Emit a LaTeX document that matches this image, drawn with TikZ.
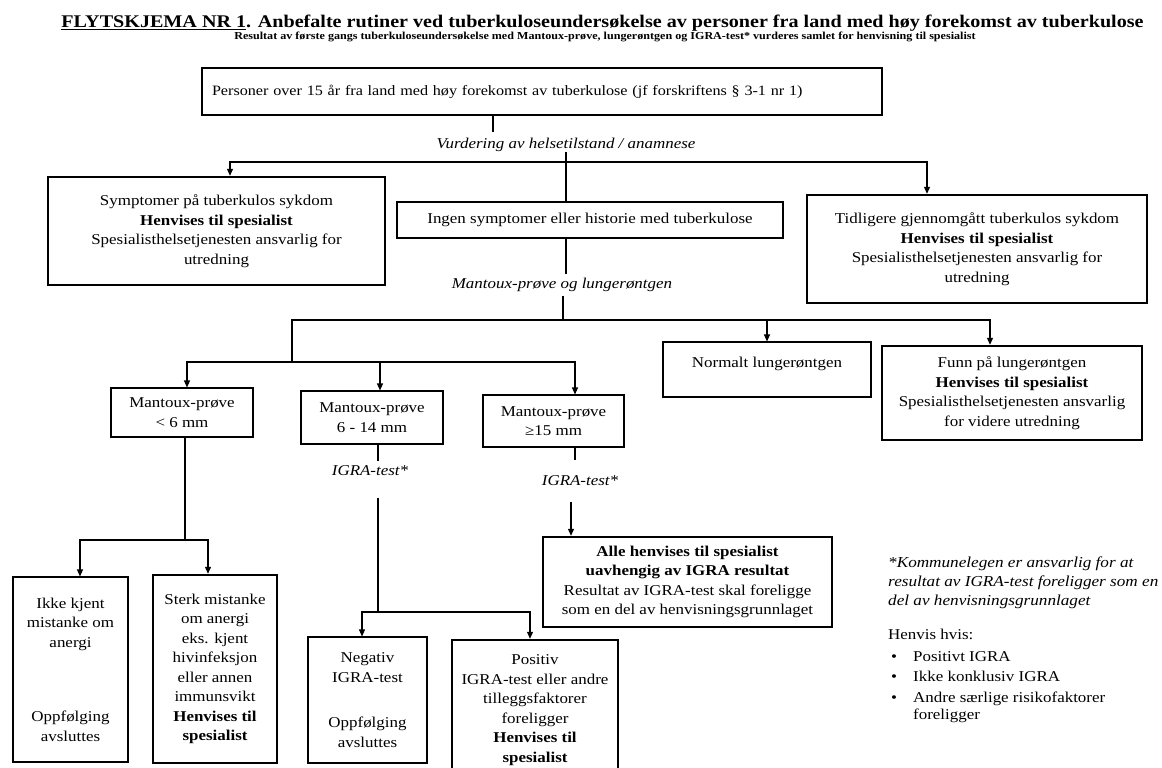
\documentclass[tikz,border=0pt]{standalone}
\usepackage{fontspec}
\setmainfont{Liberation Serif}[FakeStretch=1.13]
\usetikzlibrary{arrows.meta}
\tikzset{
  bx/.style={draw, line width=1.1pt, inner sep=0pt, align=center, font=\fontsize{15}{19.5}\selectfont},
  tbx/.style={bx, line width=2.4pt},
  lab/.style={inner sep=0pt, text height=10.5pt, text depth=3pt, font=\fontsize{15}{18}\selectfont\itshape},
  ln/.style={line width=1.1pt},
  arr/.style={ln, -{Triangle[length=7pt,width=6pt]}},
}
\begin{document}
\begin{tikzpicture}[x=1pt,y=-1pt]
\useasboundingbox (0,0) rectangle (1162,768);
\clip (0,0) rectangle (1162,768);

% titles
\node[anchor=base, inner sep=0pt, font=\fontsize{17.8}{21}\selectfont\bfseries] (title) at (602.5,28)
  {\underline{FLYTSKJEMA NR 1}. Anbefalte rutiner ved tuberkuloseundersøkelse av personer fra land med høy forekomst av tuberkulose};
\node[anchor=base, inner sep=0pt, font=\fontsize{10.7}{12}\selectfont\bfseries] (sub) at (605,40)
  {Resultat av første gangs tuberkuloseundersøkelse med Mantoux-prøve, lungerøntgen og IGRA-test* vurderes samlet for henvisning til spesialist};

% boxes
\node[bx, align=left, text width=660pt, inner xsep=10pt, minimum height=47pt, font=\fontsize{14.3}{18}\selectfont] (top) at (542,91.5)
  {Personer over 15 år fra land med høy forekomst av tuberkulose (jf forskriftens § 3-1 nr 1)};
\node[lab] (vurd) at (566,145) {Vurdering av helsetilstand / anamnese};
\node[tbx, minimum width=337pt, minimum height=108pt] (sym) at (216.5,231)
  {Symptomer på tuberkulos sykdom\\\textbf{Henvises til spesialist}\\Spesialisthelsetjenesten ansvarlig for\\utredning};
\node[bx, minimum width=386pt, minimum height=36pt] (ingen) at (590,220)
  {Ingen symptomer eller historie med tuberkulose};
\node[tbx, minimum width=340pt, minimum height=108pt] (tidl) at (977,249)
  {Tidligere gjennomgått tuberkulos sykdom\\\textbf{Henvises til spesialist}\\Spesialisthelsetjenesten ansvarlig for\\utredning};
\node[lab] (lung) at (562,285) {Mantoux-prøve og lungerøntgen};
\node[bx, minimum width=208pt, minimum height=55pt] (normal) at (767,369.5)
  {Normalt lungerøntgen\\[-6pt]\mbox{}};
\node[tbx, minimum width=260pt, minimum height=94pt] (funn) at (1012,393)
  {Funn på lungerøntgen\\\textbf{Henvises til spesialist}\\Spesialisthelsetjenesten ansvarlig\\for videre utredning};
\node[bx, minimum width=142pt, minimum height=49pt] (m1) at (182,412.5) {Mantoux-prøve\\< 6 mm};
\node[bx, minimum width=142pt, minimum height=53pt] (m2) at (372,417.5) {Mantoux-prøve\\6 - 14 mm};
\node[bx, minimum width=141pt, minimum height=52pt] (m3) at (553.5,421) {Mantoux-prøve\\≥15 mm};
\node[lab] (igra1) at (370,472) {IGRA-test*};
\node[lab] (igra2) at (580,482) {IGRA-test*};
\node[bx, minimum width=115pt, minimum height=185pt] (ikke) at (70.5,669.5)
  {Ikke kjent\\mistanke om\\anergi\\[55pt]Oppfølging\\avsluttes};
\node[tbx, minimum width=124pt, minimum height=188pt] (sterk) at (215,669)
  {Sterk mistanke\\om anergi\\eks. kjent\\hivinfeksjon\\eller annen\\immunsvikt\\\textbf{Henvises til}\\\textbf{spesialist}};
\node[tbx, minimum width=289pt, minimum height=90pt] (alle) at (687.5,582)
  {\textbf{Alle henvises til spesialist}\\\textbf{uavhengig av IGRA resultat}\\Resultat av IGRA-test skal foreligge\\som en del av henvisningsgrunnlaget};
\node[bx, minimum width=119pt, minimum height=126pt] (neg) at (367.5,700)
  {Negativ\\IGRA-test\\[26pt]Oppfølging\\avsluttes};
\node[tbx, minimum width=166pt, minimum height=140pt] (pos) at (535,710)
  {Positiv\\IGRA-test eller andre\\tilleggsfaktorer\\foreligger\\\textbf{Henvises til}\\\textbf{spesialist}};

% footnote
\node[anchor=north west, inner sep=0pt, align=left, font=\fontsize{15.2}{19}\selectfont\itshape] (fn) at (888,557)
  {*Kommunelegen er ansvarlig for at\\resultat av IGRA-test foreligger som en\\del av henvisningsgrunnlaget};
\node[anchor=north west, inner sep=0pt, align=left, font=\fontsize{15}{20.5}\selectfont] (hv) at (888,629)
  {Henvis hvis:\\[1pt]
   \hspace*{3pt}\makebox[22pt][l]{•}Positivt IGRA\\
   \hspace*{3pt}\makebox[22pt][l]{•}Ikke konklusiv IGRA\\
   \hspace*{3pt}\makebox[22pt][l]{•}Andre særlige risikofaktorer\\[-3pt]
   \hspace*{25pt}foreligger};

% connectors
\coordinate (v1) at (493,0);
\draw[ln, shorten >=6pt] (top.south -| v1) -- (vurd.north -| v1);
\coordinate (h1) at (566,162);
\coordinate (h1l) at (230,162);
\coordinate (h1r) at (927,162);
\draw[ln] (vurd.south) -- (h1) -- (ingen.north -| h1);
\draw[arr] (h1) -- (h1l) -- (sym.north -| h1l);
\draw[arr] (h1) -- (h1r) -- (tidl.north -| h1r);

\coordinate (h2) at (563,320);
\coordinate (h2l) at (292,320);
\coordinate (h2r) at (990,320);
\coordinate (h2a) at (767,320);
\draw[ln, shorten >=4pt] (ingen.south -| h1) -- (lung.north -| h1);
\draw[ln, shorten <=4pt] (lung.south -| h2) -- (h2);
\draw[arr] (h2) -- (h2r) -- (funn.north -| h2r);
\draw[arr] (h2a) -- (normal.north -| h2a);

\coordinate (h3c) at (292,362);
\coordinate (h3l) at (187,362);
\coordinate (h3m) at (380,362);
\coordinate (h3r) at (575,362);
\draw[ln] (h2) -- (h2l) -- (h3c);
\draw[arr] (h3c) -- (h3l) -- (m1.north -| h3l);
\draw[arr] (h3c) -- (h3r) -- (m3.north -| h3r);
\draw[arr] (h3m) -- (m2.north -| h3m);

\coordinate (h4) at (185,540);
\coordinate (h4l) at (80,540);
\coordinate (h4r) at (208,540);
\draw[ln] (m1.south -| h4) -- (h4);
\draw[arr] (h4) -- (h4l) -- (ikke.north -| h4l);
\draw[arr] (h4) -- (h4r) -- (sterk.north -| h4r);

\coordinate (v2) at (378,0);
\coordinate (h5) at (378,612);
\coordinate (h5l) at (362,612);
\coordinate (h5r) at (530,612);
\draw[ln, shorten >=4pt] (m2.south -| v2) -- (igra1.north -| v2);
\draw[ln, shorten <=19pt] (igra1.south -| v2) -- (h5);
\draw[arr] (h5) -- (h5l) -- (neg.north -| h5l);
\draw[arr] (h5) -- (h5r) -- (pos.north -| h5r);

\coordinate (v3) at (575,0);
\coordinate (v3b) at (571,0);
\draw[ln, shorten >=15pt] (m3.south -| v3) -- (igra2.north -| v3);
\draw[arr, shorten <=13pt] (igra2.south -| v3b) -- (alle.north -| v3b);
\end{tikzpicture}
\end{document}
